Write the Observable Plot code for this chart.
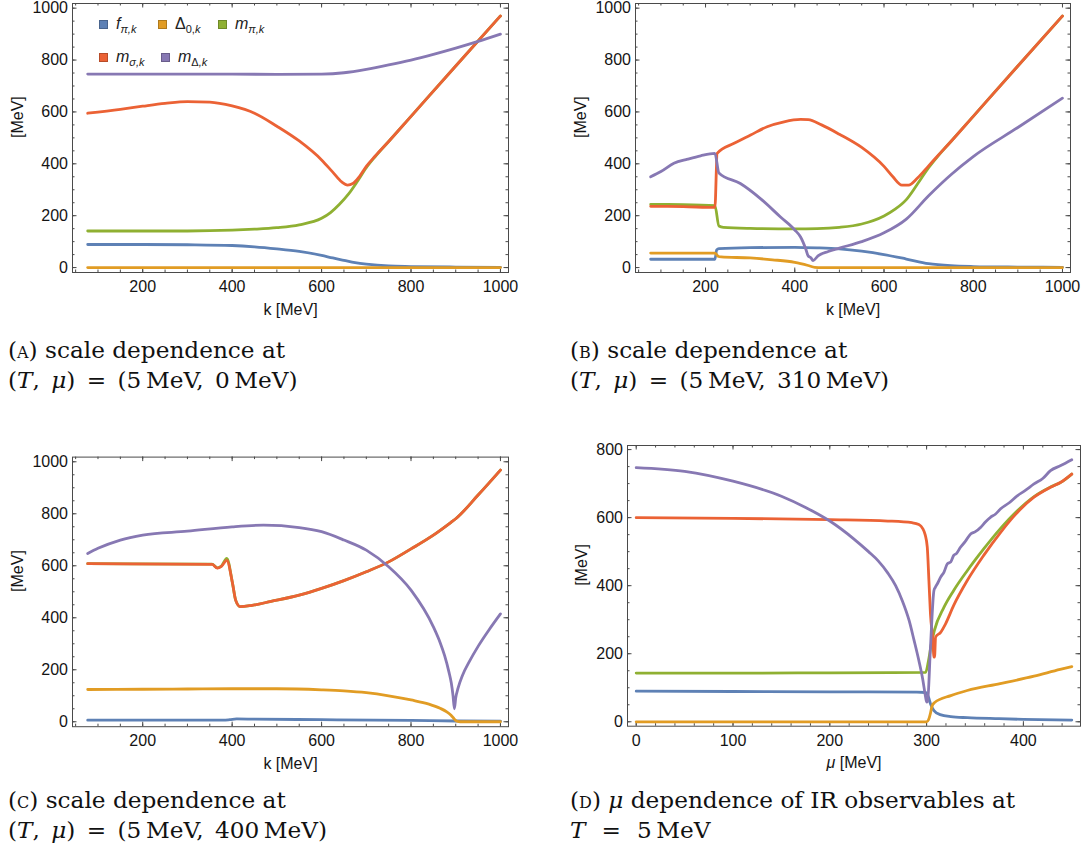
<!DOCTYPE html>
<html><head><meta charset="utf-8">
<script src="https://cdn.jsdelivr.net/npm/d3@7"></script>
<script src="https://cdn.jsdelivr.net/npm/@observablehq/plot@0.6"></script>
<style>
body{margin:0;background:#fff;}
#root{position:relative;width:1089px;height:856px;overflow:hidden;background:#fff;}
.panel{position:absolute;}
.cap{position:absolute;font-family:"DejaVu Serif",serif;font-size:23.2px;line-height:30.5px;color:#111;white-space:nowrap;}
.cap .l2{word-spacing:4px;}
.sc{font-variant:small-caps;}
.lg{position:absolute;height:18px;display:flex;align-items:center;font-family:"Liberation Sans",Arial,sans-serif;font-size:16px;font-style:italic;color:#222;white-space:nowrap;}
.sw{width:7px;height:7px;border:1px solid;margin-right:8px;}
.sb{font-size:11px;position:relative;top:4px;}
.up{font-style:normal;}
</style></head><body><div id="root"></div>
<script>
// ---------- series meta ----------
const seriesKeys = ["fpi", "delta", "mpi", "msig", "mdel"];
const seriesColors = ["#5E81B5", "#E19C24", "#8FB032", "#EB6235", "#8778B3"];

// ---------- ticks ----------
const kTicks = [200, 400, 600, 800, 1000];
const kMinor = [50,100,150,200,250,300,350,400,450,500,550,600,650,700,750,800,850,900,950,1000];
const mevTicks = [0, 200, 400, 600, 800, 1000];
const mevMinor = [0,50,100,150,200,250,300,350,400,450,500,550,600,650,700,750,800,850,900,950,1000];
const muTicks = [0, 100, 200, 300, 400];
const muMinor = [0,20,40,60,80,100,120,140,160,180,200,220,240,260,280,300,320,340,360,380,400,420,440];
const mevTicksD = [0, 200, 400, 600, 800];
const mevMinorD = [0,50,100,150,200,250,300,350,400,450,500,550,600,650,700,750,800];

// ---------- panel A: (T,mu) = (5, 0) ----------
const A_fpi = [[77,89],[200,89],[300,88],[400,85],[450,80],[500,72],[550,62],[600,47],[625,37],[650,28],[675,19],[700,13],[750,6],[800,4],[900,2],[1000,1]];
const A_delta = [[77,0],[500,0],[1000,0]];
const A_mpi = [[77,141],[300,141],[400,144],[450,148],[500,154],[550,165],[600,190],[620,212],[640,244],[660,283],[680,332],[700,385],[720,428],[750,486],[800,583],[900,777],[1000,970]];
const A_msig = [[77,595],[150,610],[200,622],[250,633],[300,640],[350,638],[400,623],[450,595],[500,545],[550,488],[600,415],[625,368],[645,330],[658,318],[670,324],[685,352],[700,390],[720,430],[750,486],[800,583],[900,777],[1000,970]];
const A_mdel = [[77,746],[300,746],[500,745],[600,746],[650,751],[700,764],[750,781],[800,800],[850,822],[900,846],[950,872],[1000,900]];

// ---------- panel B: (T,mu) = (5, 310) ----------
const B_fpi = [[77,32],[221,32],[225,68],[230,73],[300,77],[400,78],[450,76],[500,72],[550,63],[600,50],[650,33],[700,15],[750,7],[800,4],[900,2],[1000,1]];
const B_delta = [[77,56],[221,56],[228,44],[235,41],[300,37],[350,30],[400,20],[430,8],[445,1],[460,0],[1000,0]];
const B_mpi = [[77,244],[150,243],[221,239],[230,160],[240,155],[300,151],[400,149],[450,150],[500,155],[550,168],[600,199],[625,225],[650,262],[675,322],[700,385],[720,428],[750,486],[800,583],[900,777],[1000,970]];
const B_msig = [[77,236],[150,235],[221,232],[226,440],[264,479],[301,511],[338,543],[376,562],[413,571],[430,570],[460,550],[500,514],[550,463],[600,390],[620,350],[640,318],[655,318],[675,345],[700,392],[720,430],[750,486],[800,583],[900,777],[1000,970]];
const B_mdel = [[77,350],[100,370],[129,402],[160,418],[189,431],[221,440],[230,365],[278,324],[323,266],[368,195],[400,145],[413,118],[425,70],[430,45],[436,38],[441,27],[452,45],[475,62],[500,75],[550,100],[600,134],[650,187],[700,277],[750,358],[800,428],[900,540],[1000,653]];

// ---------- panel C: (T,mu) = (5, 400) ----------
const C_fpi = [[77,6],[380,6],[395,8],[410,11],[450,10],[600,8],[800,5],[900,3],[1000,2]];
const C_delta = [[77,124],[200,125],[300,126],[400,127],[500,127],[600,123],[650,119],[700,112],[750,100],[800,84],[840,68],[865,52],[880,38],[890,24],[897,10],[903,2],[910,0],[1000,0]];
const C_mpi = [[77,608],[355,606],[367,592],[376,599],[388,628],[401,531],[408,467],[418,443],[442,447],[487,463],[550,487],[600,513],[650,543],[700,577],[750,615],[800,665],[850,718],[890,768],[900,781],[950,872],[1000,968]];
const C_msig = [[77,608],[355,605],[367,591],[376,598],[388,621],[401,531],[408,467],[418,443],[442,447],[487,463],[550,487],[600,513],[650,543],[700,577],[750,615],[800,665],[850,718],[890,768],[900,781],[950,872],[1000,968]];
const C_mdel = [[77,647],[100,667],[150,699],[200,718],[300,733],[400,750],[470,756],[550,747],[600,731],[650,699],[700,660],[750,596],[800,506],[850,365],[865,305],[875,255],[885,190],[890,150],[894,100],[897,50],[900,92],[905,128],[915,178],[930,230],[950,290],[975,355],[1000,415]];

// ---------- panel D: mu dependence at T = 5 ----------
const D_fpi = [[0,90],[100,89],[200,88],[290,87],[299,86],[302,72],[304,53],[307.6,33],[314,21],[325,15],[342,12],[375,9],[400,7],[450,5]];
const D_delta = [[0,0],[300,0],[302,6],[304,25],[305.5,45],[308,56],[325,77],[342,92],[376,112],[411,134],[438,154],[450,162]];
const D_mpi = [[0,143],[100,143],[200,144],[299,145],[302,180],[305,230],[308,268],[318,337],[328,386],[342,444],[359,508],[376,567],[394,621],[411,662],[428,690],[440,706],[450,728]];
const D_msig = [[0,600],[100,598],[200,594],[260,590],[285,585],[292,580],[296,568],[298.5,550],[300.7,513],[302.4,415],[304,317],[306.5,239],[307.6,190],[308.2,190],[309.3,249],[314.5,263],[319.6,288],[328,342],[342,415],[359,489],[376.5,557],[394,616],[411,660],[428,689],[438.6,704],[450,728]];
const D_mdel = [[0,747],[50,736],[100,707],[150,663],[175,630],[200,590],[225,537],[240,500],[250,473],[260,437],[268,400],[275,355],[282,297],[287,240],[292,180],[296,125],[299,72],[300,58],[301,60],[304,219],[307.6,386],[309,395],[311,405],[314.5,425],[318,440],[321.4,464],[325,470],[328,489],[331,495],[335,513],[340,530],[345.5,552],[350,558],[356,572],[361,588],[366,601],[371,610],[376.5,626],[385,643],[394,665],[402,680],[411,699],[420,715],[428,738],[438.6,753],[450,770]];

const FRAME = "#4a4a4a";
const TXT = "#141414";
const root = document.getElementById("root");

function makePanel(cfg) {
  const {left, top, width, height, mt, mr, mb, ml, xDomain, yDomain, xTicks, xMinor, yTicks, yMinor, series, xLabel, yLabelDx} = cfg;
  const fw = width - ml - mr, fh = height - mt - mb;
  const marks = [];
  const tick = (len, data, side) => {
    if (side === "bottom") return Plot.ruleX(data, {stroke: FRAME, strokeWidth: 1, insetTop: fh - len});
    if (side === "top") return Plot.ruleX(data, {stroke: FRAME, strokeWidth: 1, insetBottom: fh - len});
    if (side === "left") return Plot.ruleY(data, {stroke: FRAME, strokeWidth: 1, insetRight: fw - len});
    return Plot.ruleY(data, {stroke: FRAME, strokeWidth: 1, insetLeft: fw - len});
  };
  for (const s of ["bottom", "top"]) { marks.push(tick(2.5, xMinor, s)); marks.push(tick(4.5, xTicks, s)); }
  for (const s of ["left", "right"]) { marks.push(tick(2.5, yMinor, s)); marks.push(tick(4.5, yTicks, s)); }
  series.forEach((pts, i) => {
    const rows = pts.map(([x, y]) => ({x, y}));
    marks.push(Plot.line(rows, {x: "x", y: "y", stroke: seriesColors[i], strokeWidth: 2.8, curve: "monotone-x", strokeLinejoin: "round", strokeLinecap: "round"}));
  });
  marks.push(Plot.frame({stroke: FRAME, strokeWidth: 1}));
  marks.push(Plot.axisX(xTicks, {tickSize: 0, tickPadding: 8, tickFormat: d => String(d), label: null, fill: TXT, fontSize: 16}));
  marks.push(Plot.axisY(yTicks, {tickSize: 0, tickPadding: 4.5, tickFormat: d => String(d), label: null, fill: TXT, fontSize: 16}));
  marks.push(Plot.text([xLabel], {frameAnchor: "bottom", dy: 37, lineAnchor: "middle", fill: TXT, fontSize: 16}));
  marks.push(Plot.text(["[MeV]"], {frameAnchor: "left", dx: yLabelDx, rotate: -90, lineAnchor: "middle", fill: TXT, fontSize: 16}));
  const svg = Plot.plot({
    width, height, marginTop: mt, marginRight: mr, marginBottom: mb, marginLeft: ml,
    x: {domain: xDomain}, y: {domain: yDomain},
    style: {fontFamily: "'Liberation Sans', Arial, sans-serif", fontSize: "16px", background: "transparent", overflow: "visible"},
    marks
  });
  svg.querySelectorAll("text").forEach(t => {
    if (t.textContent === "μ [MeV]") t.innerHTML = '<tspan font-style="italic">μ</tspan> [MeV]';
  });
  const div = document.createElement("div");
  div.className = "panel";
  div.style.left = left + "px"; div.style.top = top + "px";
  div.appendChild(svg);
  root.appendChild(div);
}

makePanel({left: 0, top: 0, width: 545, height: 330, mt: 3, mr: 37, mb: 58, ml: 72,
  xDomain: [43, 1018], yDomain: [-19, 1018], xTicks: kTicks, xMinor: kMinor, yTicks: mevTicks, yMinor: mevMinor,
  series: [A_fpi, A_delta, A_mpi, A_msig, A_mdel], xLabel: "k [MeV]", yLabelDx: -55});
makePanel({left: 545, top: 0, width: 544, height: 330, mt: 3, mr: 19, mb: 58, ml: 90,
  xDomain: [43, 1018], yDomain: [-19, 1018], xTicks: kTicks, xMinor: kMinor, yTicks: mevTicks, yMinor: mevMinor,
  series: [B_fpi, B_delta, B_mpi, B_msig, B_mdel], xLabel: "k [MeV]", yLabelDx: -55});
makePanel({left: 0, top: 420, width: 545, height: 360, mt: 36.6, mr: 37, mb: 53.8, ml: 72,
  xDomain: [43, 1018], yDomain: [-19, 1018], xTicks: kTicks, xMinor: kMinor, yTicks: mevTicks, yMinor: mevMinor,
  series: [C_fpi, C_delta, C_mpi, C_msig, C_mdel], xLabel: "k [MeV]", yLabelDx: -55});
makePanel({left: 545, top: 420, width: 544, height: 360, mt: 25, mr: 9, mb: 54.3, ml: 82,
  xDomain: [-9, 459], yDomain: [-13, 812], xTicks: muTicks, xMinor: muMinor, yTicks: mevTicksD, yMinor: mevMinorD,
  series: [D_fpi, D_delta, D_mpi, D_msig, D_mdel], xLabel: "μ [MeV]", yLabelDx: -46});

// ---------- legend (panel A) ----------
const legendItems = [
  {i: 0, x: 99, y: 24, html: 'f<span class="sb">π,k</span>'},
  {i: 1, x: 158, y: 24, html: '<span class="up">Δ</span><span class="sb"><span class="up">0,</span>k</span>'},
  {i: 2, x: 218, y: 24, html: 'm<span class="sb">π,k</span>'},
  {i: 3, x: 99, y: 57, html: 'm<span class="sb">σ,k</span>'},
  {i: 4, x: 161, y: 57, html: 'm<span class="sb"><span class="up">Δ</span>,k</span>'}
];
legendItems.forEach(it => {
  const d = document.createElement("div");
  d.className = "lg";
  d.style.left = it.x + "px"; d.style.top = (it.y - 9) + "px";
  const c = seriesColors[it.i];
  d.innerHTML = `<span class="sw" style="background:${c};border-color:${d3.color(c).darker(0.7)}"></span><span>${it.html}</span>`;
  root.appendChild(d);
});

// ---------- captions ----------
const captions = [
  {x: 8, y: 334.7, l1: '(<span class="sc">a</span>) scale dependence at', l2: '(<i>T</i>, <i>μ</i>) = (5&#8201;MeV, 0&#8201;MeV)'},
  {x: 570, y: 334.7, l1: '(<span class="sc">b</span>) scale dependence at', l2: '(<i>T</i>, <i>μ</i>) = (5&#8201;MeV, 310&#8201;MeV)'},
  {x: 8, y: 784.7, l1: '(<span class="sc">c</span>) scale dependence at', l2: '(<i>T</i>, <i>μ</i>) = (5&#8201;MeV, 400&#8201;MeV)'},
  {x: 570, y: 784.7, l1: '(<span class="sc">d</span>) <i>μ</i> dependence of IR observables at', l2: '<i>T</i>&#8201; = &#8201;5&#8201;MeV'}
];
captions.forEach(c => {
  const d = document.createElement("div");
  d.className = "cap";
  d.style.left = c.x + "px"; d.style.top = c.y + "px";
  d.innerHTML = '<span>' + c.l1 + '</span><br><span class="l2">' + c.l2 + '</span>';
  root.appendChild(d);
});
</script></body></html>
